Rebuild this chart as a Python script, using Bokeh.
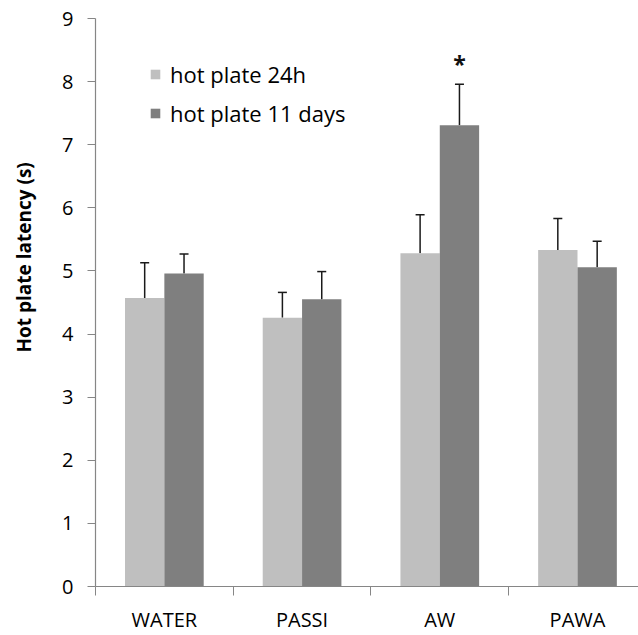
import numpy as np
from bokeh.plotting import figure
from bokeh.layouts import row
from bokeh.models import (Range1d, FixedTicker, Legend, LegendItem, Whisker, TeeHead,
                          ColumnDataSource)
from bokeh.core.properties import value
from bokeh.embed import file_html
from bokeh.resources import INLINE

categories = ["WATER", "PASSI", "AW", "PAWA"]
series_names = ["hot plate 24h", "hot plate 11 days"]
hp24 = [4.57, 4.26, 5.28, 5.33]
hp24_upper = [5.13, 4.66, 5.89, 5.83]
hp11 = [4.96, 4.55, 7.31, 5.06]
hp11_upper = [5.27, 4.99, 7.96, 5.47]
star_labels = ["", "", "*", ""]
y_ticks = [0, 1, 2, 3, 4, 5, 6, 7, 8, 9]
y_title = "Hot plate latency (s)"

FONT = "Open Sans"
LIGHT = "#BFBFBF"
DARK = "#7F7F7F"
AXIS = "#868686"

LABEL_W = 40
n = len(categories)
bar_w = 1.0 / 3.5  # Excel gap width 150%
centers = np.arange(n) + 0.5
x_light = centers - bar_w / 2
x_dark = centers + bar_w / 2

# narrow strip holding the rotated y-axis title
lp = figure(width=LABEL_W, height=635, output_backend="svg", toolbar_location=None,
            x_range=Range1d(0, LABEL_W), y_range=Range1d(0, 635),
            x_axis_location=None, y_axis_location=None,
            min_border=0)
lp.outline_line_color = None
lp.grid.visible = False
lp.text(x=[23], y=[635 - 267], text=[y_title], angle=np.pi / 2,
        text_font=value(FONT), text_font_size="19px", text_font_style="bold",
        text_align="center", text_baseline="middle", text_color="#000000")

p = figure(width=638 - LABEL_W, height=635, output_backend="svg", toolbar_location=None,
           x_range=Range1d(0, 3.943), y_range=Range1d(0, 9),
           min_border_left=95 - LABEL_W, min_border_right=0, min_border_top=18,
           min_border_bottom=47)
p.outline_line_color = None
p.grid.visible = False
p.background_fill_color = "white"

src_l = ColumnDataSource(dict(x=x_light, top=hp24, up=hp24_upper))
src_d = ColumnDataSource(dict(x=x_dark, top=hp11, up=hp11_upper))

r1 = p.vbar(x="x", top="top", width=bar_w, bottom=0, source=src_l,
            fill_color=LIGHT, line_color=None)
r2 = p.vbar(x="x", top="top", width=bar_w, bottom=0, source=src_d,
            fill_color=DARK, line_color=None)

for src in (src_l, src_d):
    w = Whisker(base="x", lower="top", upper="up", source=src, dimension="height",
                line_color="#1a1a1a", line_width=1.5,
                upper_head=TeeHead(size=9, line_color="#1a1a1a", line_width=1.5),
                lower_head=None)
    p.add_layout(w)

# significance marker
star_src = ColumnDataSource(dict(x=x_dark, y=hp11_upper, t=star_labels))
p.text(x="x", y="y", text="t", source=star_src, text_font=value(FONT),
       text_font_size="23px", text_font_style="bold", text_align="center",
       text_baseline="bottom", y_offset=-4, text_color="#111111")

# x axis
xa = p.xaxis[0]
xa.ticker = FixedTicker(ticks=list(centers), minor_ticks=list(range(n + 1)))
xa.major_label_overrides = {float(c): lab for c, lab in zip(centers, categories)}
xa.major_tick_line_color = None
xa.major_tick_out = 0
xa.major_tick_in = 0
xa.minor_tick_line_color = AXIS
xa.minor_tick_out = 9
xa.minor_tick_in = 0
xa.axis_line_color = AXIS
xa.axis_line_width = 1.2
xa.major_label_text_font = FONT
xa.major_label_text_font_size = "20px"
xa.major_label_text_color = "#000000"
xa.major_label_standoff = 10

# y axis
ya = p.yaxis[0]
ya.ticker = FixedTicker(ticks=y_ticks)
ya.minor_tick_line_color = None
ya.major_tick_line_color = AXIS
ya.major_tick_out = 8
ya.major_tick_in = 0
ya.axis_line_color = AXIS
ya.axis_line_width = 1.2
ya.major_label_text_font = FONT
ya.major_label_text_font_size = "20px"
ya.major_label_text_color = "#000000"
ya.major_label_standoff = 14

legend = Legend(items=[LegendItem(label=series_names[0], renderers=[r1]),
                       LegendItem(label=series_names[1], renderers=[r2])],
                location=(54, 458), orientation="vertical")
legend.border_line_color = None
legend.background_fill_alpha = 0
legend.padding = 0
legend.margin = 0
legend.glyph_width = 12
legend.glyph_height = 12
legend.label_height = 30
legend.spacing = 9
legend.label_standoff = 9
legend.label_text_font = FONT
legend.label_text_font_size = "22px"
legend.label_text_color = "#000000"
p.add_layout(legend)

layout = row(lp, p)
open("out.html", "w").write(file_html(layout, INLINE))
